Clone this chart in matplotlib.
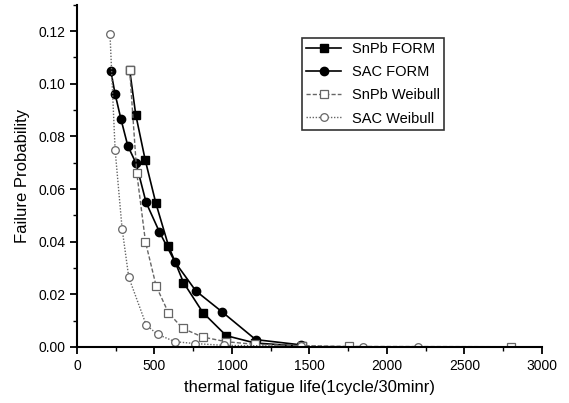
import numpy as np
import matplotlib
matplotlib.use('Agg')
import matplotlib.pyplot as plt
from matplotlib.ticker import MultipleLocator

plt.rcParams['font.family'] = ['Liberation Sans', 'DejaVu Sans']

# data
snpb_form_x = [340, 379, 440, 509, 590, 687, 812, 963, 1150, 1450]
snpb_form_y = [0.1052, 0.0883, 0.0711, 0.0546, 0.0385, 0.0245, 0.0131, 0.0043, 0.0015, 0.0003]

sac_form_x = [218, 246, 284, 328, 381, 446, 532, 633, 767, 935, 1153, 1445]
sac_form_y = [0.1050, 0.0961, 0.0865, 0.0764, 0.0698, 0.0549, 0.0437, 0.0322, 0.0213, 0.0134, 0.0028, 0.0008]

snpb_wb_x = [340, 386, 442, 511, 590, 681, 810, 963, 1150, 1450, 1758, 2799]
snpb_wb_y = [0.1052, 0.0660, 0.0399, 0.0231, 0.0130, 0.0071, 0.0038, 0.0020, 0.0010, 0.0005, 0.0002, 0.0001]

sac_wb_x = [213, 246, 291, 334, 447, 520, 633, 763, 950, 1445, 1847, 2202]
sac_wb_y = [0.1188, 0.0749, 0.0450, 0.0265, 0.0083, 0.0048, 0.0020, 0.0013, 0.0006, 0.0003, 0.0001, 0.0001]

fig = plt.figure(figsize=(5.69, 4.03), dpi=100)
ax = fig.add_axes([0.1353, 0.139, 0.8172, 0.849])

ax.plot(snpb_form_x, snpb_form_y, color='black', lw=1.2, marker='s', ms=5.5,
        mfc='black', mec='black', label='SnPb FORM')
ax.plot(sac_form_x, sac_form_y, color='black', lw=1.2, marker='o', ms=6,
        mfc='black', mec='black', label='SAC FORM')
ax.plot(snpb_wb_x, snpb_wb_y, color='#666666', lw=1.0, ls=(0, (3, 1.5)), marker='s', ms=5.5,
        mfc='white', mec='#666666', mew=0.9, label='SnPb Weibull')
ax.plot(sac_wb_x, sac_wb_y, color='#666666', lw=1.0, ls=(0, (1, 1.2)), marker='o', ms=5.5,
        mfc='white', mec='#666666', mew=0.9, label='SAC Weibull')

ax.set_xlim(0, 3000)
ax.set_ylim(0, 0.13)
ax.xaxis.set_major_locator(MultipleLocator(500))
ax.xaxis.set_minor_locator(MultipleLocator(250))
ax.yaxis.set_minor_locator(MultipleLocator(0.01))
ax.set_yticks(np.arange(0, 0.121, 0.02))
ax.set_yticklabels(['0.00', '0.02', '0.04', '0.06', '0.08', '0.10', '0.12'])

ax.spines['top'].set_visible(False)
ax.spines['right'].set_visible(False)
ax.spines['left'].set_linewidth(1.5)
ax.spines['bottom'].set_linewidth(1.5)
ax.tick_params(which='major', direction='out', length=5, width=1.3, labelsize=10)
ax.tick_params(which='minor', direction='out', length=3, width=1.0)

ax.set_xlabel('thermal fatigue life(1cycle/30minr)', fontsize=12, labelpad=5)
ax.set_ylabel('Failure Probability', fontsize=12, labelpad=6)

leg = ax.legend(loc='upper left', bbox_to_anchor=(0.484, 0.903), fontsize=10.5, frameon=True,
                fancybox=False, edgecolor='black', handlelength=2.4, borderpad=0.3,
                labelspacing=0.62, borderaxespad=0, handletextpad=0.7)
leg.get_frame().set_linewidth(1.2)

fig.savefig('out.png', dpi=100)
